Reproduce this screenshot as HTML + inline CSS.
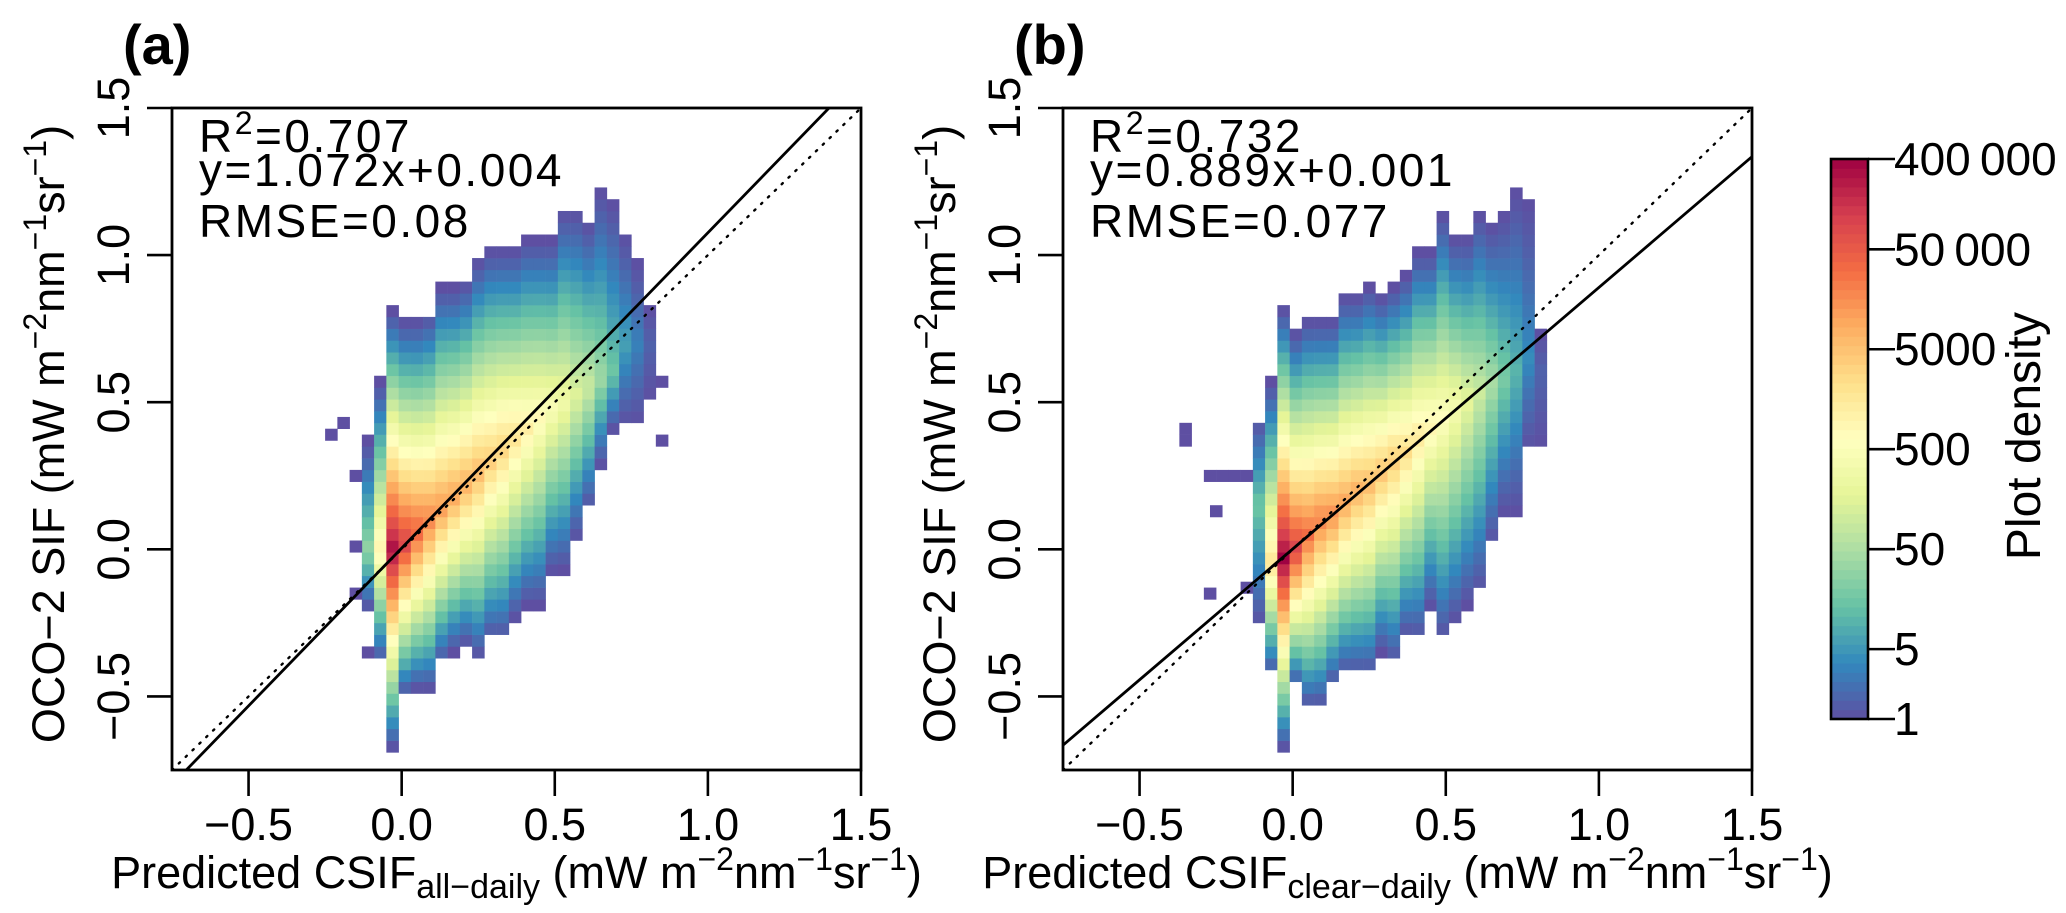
<!DOCTYPE html>
<html><head><meta charset="utf-8"><style>
html,body{margin:0;padding:0;background:#fff;}
svg{display:block;font-family:"Liberation Sans",Arial,sans-serif;}
</style></head><body>
<svg id="fig" width="2066" height="913" viewBox="0 0 2066 913" xmlns="http://www.w3.org/2000/svg"></svg>
<script>
// ---- data ----
const xTicks = [-0.5, 0.0, 0.5, 1.0, 1.5];
const xTickLabels = ["\u22120.5", "0.0", "0.5", "1.0", "1.5"];
const yTicks = [-0.5, 0.0, 0.5, 1.0, 1.5];
const yTickLabels = ["\u22120.5", "0.0", "0.5", "1.0", "1.5"];
const cbTicks = [1, 5, 50, 500, 5000, 50000, 400000];
const cbTickLabels = ["1", "5", "50", "500", "5000", "50\u2009000", "400\u2009000"];

// panel (a): per-column bins: x center, y low, y high, ridge y, peak log10 density
const aColX  = [-0.11,-0.07,-0.03,0.01,0.05,0.09,0.13,0.17,0.21,0.25,0.29,0.33,0.37,0.41,0.45,0.49,0.53,0.57,0.61,0.65,0.69,0.73,0.77,0.81];
const aColLo = [-0.19,-0.37,-0.66,-0.48,-0.46,-0.46,-0.37,-0.33,-0.31,-0.35,-0.29,-0.29,-0.22,-0.17,-0.17,-0.06,-0.05,0.05,0.15,0.30,0.42,0.44,0.44,0.52];
const aColHi = [0.35,0.55,0.79,0.76,0.76,0.78,0.87,0.87,0.89,0.96,1.0,1.0,1.0,1.03,1.03,1.03,1.13,1.13,1.09,1.2,1.16,1.05,0.96,0.8];
const aColPk = [0.0,0.0,0.0,0.02,0.06,0.1,0.14,0.18,0.22,0.26,0.3,0.34,0.38,0.41,0.45,0.48,0.5,0.52,0.55,0.58,0.6,0.7,0.7,0.7];
const aColV  = [1.5,3.0,5.5,5.0,4.6,4.3,4.1,4.0,3.9,3.8,3.6,3.5,3.3,3.1,2.9,2.7,2.5,2.2,2.0,1.6,1.2,0.8,0.5,0.2];
const aExtraX = [-0.23,-0.19,-0.15,-0.15,-0.15,-0.11,0.85,0.85];
const aExtraY = [0.39,0.43,0.25,0.01,-0.15,-0.35,0.57,0.37];

// panel (b)
const bColX  = [-0.11,-0.07,-0.03,0.01,0.05,0.09,0.13,0.17,0.21,0.25,0.29,0.33,0.37,0.41,0.45,0.49,0.53,0.57,0.61,0.65,0.69,0.73,0.77,0.81];
const bColLo = [-0.25,-0.41,-0.66,-0.45,-0.52,-0.52,-0.45,-0.41,-0.41,-0.41,-0.33,-0.37,-0.28,-0.29,-0.18,-0.29,-0.23,-0.17,-0.13,0.03,0.14,0.14,0.35,0.35];
const bColHi = [0.43,0.55,0.80,0.72,0.76,0.76,0.76,0.84,0.84,0.87,0.84,0.87,0.91,0.99,0.99,1.12,1.04,1.04,1.12,1.08,1.12,1.20,1.16,0.72];
const bColPk = [0.15,-0.05,-0.03,0.0,0.05,0.1,0.12,0.16,0.2,0.22,0.26,0.3,0.33,0.38,0.42,0.45,0.48,0.5,0.53,0.56,0.58,0.6,0.65,0.6];
const bColV  = [1.2,3.3,5.6,5.0,4.5,4.3,4.2,4.0,3.9,3.8,3.7,3.6,3.4,3.2,3.0,2.8,2.6,2.3,2.0,1.7,1.3,1.0,0.6,0.2];
const bExtraX = [-0.35,-0.35,-0.27,-0.27,-0.23,-0.25,-0.19,-0.15,-0.15];
const bExtraY = [0.41,0.37,0.25,-0.15,0.25,0.13,0.25,0.25,-0.13];

const aSlope = 1.072, aInt = 0.004, bSlope = 0.889, bInt = 0.001;

// ---- helpers ----
const NS = "http://www.w3.org/2000/svg";
const svg = document.getElementById("fig");
function mk(tag, attrs, parent) {
  const e = document.createElementNS(NS, tag);
  for (const k in attrs) e.setAttribute(k, attrs[k]);
  (parent || svg).appendChild(e);
  return e;
}
const stops = ["#5E4FA2","#3288BD","#66C2A5","#ABDDA4","#E6F598","#FFFFBF","#FEE08B","#FDAE61","#F46D43","#D53E4F","#9E0142"];
const VMAX = Math.log10(400000);
function hex(h){return [parseInt(h.substr(1,2),16),parseInt(h.substr(3,2),16),parseInt(h.substr(5,2),16)];}
function color(v) {
  let t = Math.max(0, Math.min(1, v / VMAX)) * (stops.length - 1);
  let i = Math.min(stops.length - 2, Math.floor(t)), f = t - i;
  const a = hex(stops[i]), b = hex(stops[i+1]);
  return "rgb(" + a.map((c, j) => Math.round(c + (b[j] - c) * f)).join(",") + ")";
}

const TOP = 108, BOT = 770;
const FS = 45, SUPFS = 32;
function yS(v) { return TOP + (1.5 - v) * (BOT - TOP) / 2.25; }

function panel(id, left, right, colX, lo, hi, pk, pv, exX, exY, slope, icpt, label, sub, stats) {
  const xS = v => left + (v + 0.75) * (right - left) / 2.25;
  const g = mk("g", { });
  const cells = mk("g", { }, g);
  const cw = xS(0.04) - xS(0), ch = yS(0) - yS(0.04);
  function cell(cx, cy, v) {
    const r = mk("rect", {x: xS(cx - 0.02), y: yS(cy + 0.02), width: cw + 0.3, height: ch + 0.3, fill: color(v)}, cells);
    
    
  }
  for (let c = 0; c < colX.length; c++) {
    const k0 = Math.round((lo[c] + 0.03) / 0.04), k1 = Math.round((hi[c] + 0.03) / 0.04);
    for (let k = k0; k <= k1; k++) {
      const y = -0.03 + 0.04 * k;
      let t;
      if (y >= pk[c]) t = (hi[c] + 0.02 - y) / (hi[c] + 0.02 - pk[c]);
      else t = (y - lo[c] + 0.02) / (pk[c] - lo[c] + 0.02);
      t = Math.max(0, Math.min(1, t));
      cell(colX[c], y, pv[c] * Math.pow(t, 1.1));
    }
  }
  for (let i = 0; i < exX.length; i++) cell(exX[i], exY[i], 0);

  // lines clipped
  const cp = mk("clipPath", {id: "clip-" + id}, g);
  mk("rect", {x: left, y: TOP, width: right - left, height: BOT - TOP}, cp);
  const l1 = mk("line", {x1: xS(-0.75), y1: yS(-0.75), x2: xS(1.5), y2: yS(1.5), stroke: "#000", "stroke-width": 2.4, "stroke-dasharray": "1.5 8", "stroke-linecap": "round", "clip-path": "url(#clip-" + id + ")"}, g);
  
  
  const l2 = mk("line", {x1: xS(-0.75), y1: yS(-0.75 * slope + icpt), x2: xS(1.5), y2: yS(1.5 * slope + icpt), stroke: "#000", "stroke-width": 2.8, "clip-path": "url(#clip-" + id + ")"}, g);
  
  

  // frame
  const fr = mk("rect", {x: left, y: TOP, width: right - left, height: BOT - TOP, fill: "none", stroke: "#000", "stroke-width": 2.8}, g);
  
  
  // ticks
  xTicks.forEach((v, i) => {
    const t = mk("line", {x1: xS(v), y1: BOT, x2: xS(v), y2: BOT + 26, stroke: "#000", "stroke-width": 2.6}, g);
    
    
    const tx = mk("text", {x: xS(v), y: 840, "font-size": FS, "text-anchor": "middle"}, g);
    tx.textContent = xTickLabels[i];
    
    
  });
  yTicks.forEach((v, i) => {
    const t = mk("line", {x1: left - 25, y1: yS(v), x2: left, y2: yS(v), stroke: "#000", "stroke-width": 2.6}, g);
    
    
    const bx = left - 43;
    const tx = mk("text", {x: bx, y: yS(v), "font-size": FS, "text-anchor": "middle", transform: "rotate(-90 " + bx + " " + yS(v) + ")"}, g);
    tx.textContent = yTickLabels[i];
    
    
  });
  // panel label
  const pl = mk("text", {x: left - 49, y: 64, "font-size": 56, "font-weight": "bold"}, g);
  pl.textContent = label;
  
  
  // stats
  const sx = left + 27;
  const s1 = mk("text", {x: sx, y: 152, "font-size": 46, "letter-spacing": 2.5}, g);
  s1.innerHTML = 'R<tspan dy="-18" font-size="32">2</tspan><tspan dy="18">=' + stats[0] + '</tspan>';
  
  
  const s2 = mk("text", {x: sx, y: 186, "font-size": 46, "letter-spacing": 2.5}, g);
  s2.textContent = stats[1];
  
  
  const s3 = mk("text", {x: sx, y: 237, "font-size": 46, "letter-spacing": 2.5}, g);
  s3.textContent = stats[2];
  
  
  // axis titles
  const xt = mk("text", {x: (left + right) / 2, y: 888, "font-size": FS, "text-anchor": "middle"}, g);
  xt.innerHTML = 'Predicted CSIF<tspan font-size="34" dy="10">' + sub + '</tspan><tspan dy="-10"> (mW m</tspan><tspan font-size="' + SUPFS + '" dy="-18">\u22122</tspan><tspan dy="18">nm</tspan><tspan font-size="' + SUPFS + '" dy="-18">\u22121</tspan><tspan dy="18">sr</tspan><tspan font-size="' + SUPFS + '" dy="-18">\u22121</tspan><tspan dy="18">)</tspan>';
  
  
  const yx = left - 108, yy = 434;
  const yt = mk("text", {x: yx, y: yy, "font-size": FS, "text-anchor": "middle", transform: "rotate(-90 " + yx + " " + yy + ")"}, g);
  yt.innerHTML = 'OCO\u22122 SIF (mW m<tspan font-size="' + SUPFS + '" dy="-18">\u22122</tspan><tspan dy="18">nm</tspan><tspan font-size="' + SUPFS + '" dy="-18">\u22121</tspan><tspan dy="18">sr</tspan><tspan font-size="' + SUPFS + '" dy="-18">\u22121</tspan><tspan dy="18">)</tspan>';
  
  
}

panel("a", 172, 861, aColX, aColLo, aColHi, aColPk, aColV, aExtraX, aExtraY, aSlope, aInt, "(a)", "all\u2212daily",
  ["0.707", "y=1.072x+0.004", "RMSE=0.08"]);
panel("b", 1063, 1752, bColX, bColLo, bColHi, bColPk, bColV, bExtraX, bExtraY, bSlope, bInt, "(b)", "clear\u2212daily",
  ["0.732", "y=0.889x+0.001", "RMSE=0.077"]);

// ---- colorbar ----
const cb = mk("g", { });
const CBL = 1831, CBR = 1868, CBT = 159, CBB = 719;
const cbY = v => CBB - Math.log10(v) / VMAX * (CBB - CBT);
const N = 60;
for (let i = 0; i < N; i++) {
  const r = mk("rect", {x: CBL, y: CBB - (i + 1) * (CBB - CBT) / N, width: CBR - CBL, height: (CBB - CBT) / N + 0.5, fill: color((i + 0.5) / N * VMAX)}, cb);
  
  
}
const cbf = mk("rect", {x: CBL, y: CBT, width: CBR - CBL, height: CBB - CBT, fill: "none", stroke: "#000", "stroke-width": 2.6}, cb);


cbTicks.forEach((v, i) => {
  const t = mk("line", {x1: CBR, y1: cbY(v), x2: CBR + 27, y2: cbY(v), stroke: "#000", "stroke-width": 2.6}, cb);
  
  
  const tx = mk("text", {x: CBR + 26, y: cbY(v) + 16, "font-size": 46}, cb);
  tx.textContent = cbTickLabels[i];
  
  
});
const cbt = mk("text", {x: 2040, y: 436, "font-size": 48, "text-anchor": "middle", transform: "rotate(-90 2040 436)"}, cb);
cbt.textContent = "Plot density";


</script>
</body></html>
